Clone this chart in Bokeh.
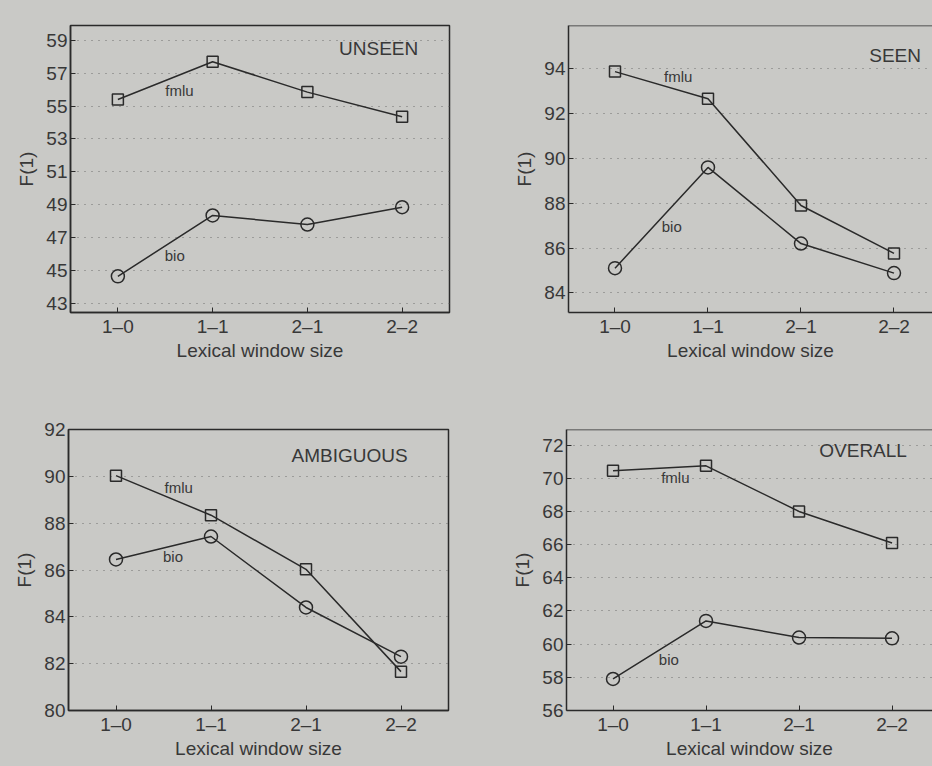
from bokeh.plotting import figure
from bokeh.layouts import column, row
from bokeh.models import FixedTicker, Range1d, Span
from bokeh.embed import file_html
from bokeh.resources import INLINE
from bokeh.core.properties import value

# ---- data ----
window_sizes = ["1–0", "1–1", "2–1", "2–2"]

unseen_fmlu = [55.4, 57.7, 55.85, 54.35]
unseen_bio = [44.65, 48.35, 47.8, 48.85]

seen_fmlu = [93.88, 92.67, 87.9, 85.76]
seen_bio = [85.1, 89.6, 86.2, 84.88]

ambig_fmlu = [90.03, 88.34, 86.03, 81.66]
ambig_bio = [86.45, 87.43, 84.4, 82.3]

overall_fmlu = [70.45, 70.75, 68.0, 66.1]
overall_bio = [57.9, 61.4, 60.4, 60.35]

unseen_ticks = [43, 45, 47, 49, 51, 53, 55, 57, 59]
seen_ticks = [84, 86, 88, 90, 92, 94]
ambig_ticks = [80, 82, 84, 86, 88, 90, 92]
overall_ticks = [56, 58, 60, 62, 64, 66, 68, 70, 72]

BG = "#c9c9c6"
INK = "#2a2a2a"
TXT = "#383838"
FONT = "Liberation Sans"

xs = list(range(1, len(window_sizes) + 1))


def panel(title, fmlu, bio, yticks, yr, xr, width, height, borders,
          title_pos, fmlu_pos, bio_pos, full_frame=True):
    bl, bt, br, bb = borders
    p = figure(width=width, height=height, output_backend="svg",
               toolbar_location=None, x_range=Range1d(*xr), y_range=Range1d(*yr),
               min_border_left=bl, min_border_top=bt, min_border_right=br,
               min_border_bottom=bb, background_fill_color=BG,
               border_fill_color=BG,
               outline_line_color=INK if full_frame else None,
               outline_line_width=1.5,
               x_axis_label="Lexical window size", y_axis_label="F(1)")
    p.xgrid.visible = False
    p.ygrid.ticker = FixedTicker(ticks=yticks)
    p.ygrid.grid_line_color = "#6f6f6f"
    p.ygrid.grid_line_dash = "1 6"
    p.ygrid.grid_line_width = 1.2

    p.xaxis.ticker = FixedTicker(ticks=xs)
    p.xaxis.major_label_overrides = {x: lab for x, lab in zip(xs, window_sizes)}
    p.yaxis.ticker = FixedTicker(ticks=yticks)
    for ax in (p.xaxis[0], p.yaxis[0]):
        ax.axis_line_color = INK
        ax.axis_line_width = 1.5
        ax.major_tick_in = 5
        ax.major_tick_out = 0
        ax.minor_tick_line_color = None
        ax.major_tick_line_color = INK
        ax.major_label_text_font = FONT
        ax.major_label_text_font_size = "19px"
        ax.major_label_text_color = TXT
        ax.axis_label_text_font = FONT
        ax.axis_label_text_font_size = "19px"
        ax.axis_label_text_font_style = "normal"
        ax.axis_label_text_color = TXT
    p.xaxis.major_label_standoff = 3
    p.xaxis.axis_label_standoff = 0
    p.yaxis.major_label_standoff = 3
    p.yaxis.axis_label_standoff = 6

    if not full_frame:
        p.add_layout(Span(location=yr[1], dimension="width",
                          line_color=INK, line_width=1.5))

    p.line(xs, fmlu, line_color=INK, line_width=1.5)
    p.scatter(xs, fmlu, marker="square", size=11, fill_color=None,
              line_color=INK, line_width=1.5)
    p.line(xs, bio, line_color=INK, line_width=1.5)
    p.scatter(xs, bio, marker="circle", size=13, fill_color=None,
              line_color=INK, line_width=1.5)

    p.text(x=[title_pos[0]], y=[title_pos[1]], text=[title],
           text_font=value(FONT), text_font_size="19px", text_color=TXT,
           text_align="right", text_baseline="middle")
    p.text(x=[fmlu_pos[0], bio_pos[0]], y=[fmlu_pos[1], bio_pos[1]],
           text=["fmlu", "bio"], text_font=value(FONT), text_font_size="15px",
           text_color=TXT, text_align="center", text_baseline="middle")
    return p


p1 = panel("UNSEEN", unseen_fmlu, unseen_bio, unseen_ticks, (42.45, 59.9),
           (0.5, 4.5), 466, 383, (70, 15, 17, 71),
           (4.17, 58.5), (1.65, 55.94), (1.6, 45.94))
p2 = panel("SEEN", seen_fmlu, seen_bio, seen_ticks, (83.12, 95.94),
           (0.5, 4.414), 466, 383, (102, 25, 0, 67),
           (4.29, 94.6), (1.68, 93.65), (1.61, 86.95), full_frame=False)
p3 = panel("AMBIGUOUS", ambig_fmlu, ambig_bio, ambig_ticks, (80, 92),
           (0.5, 4.5), 466, 383, (68, 38, 18, 56),
           (4.07, 90.87), (1.66, 89.52), (1.6, 86.58))
p4 = panel("OVERALL", overall_fmlu, overall_bio, overall_ticks, (56, 72.94),
           (0.5, 4.435), 466, 383, (100, 46, 0, 49),
           (4.16, 71.65), (1.67, 70.05), (1.6, 59.07), full_frame=False)

layout = column(row(p1, p2, spacing=0), row(p3, p4, spacing=0), spacing=0,
                background=BG)

open("out.html", "w").write(file_html(layout, INLINE))
